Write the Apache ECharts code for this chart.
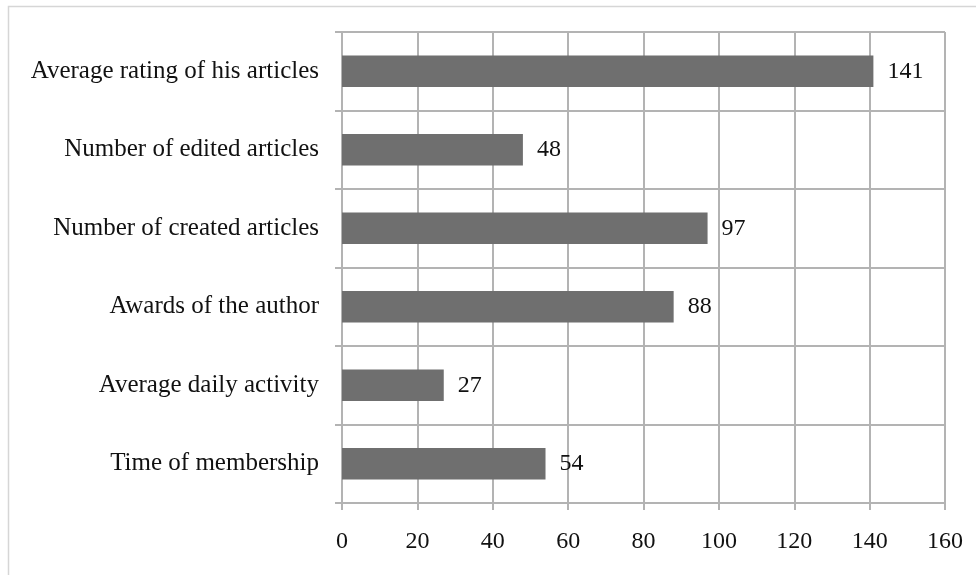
<!DOCTYPE html>
<html>
<head>
<meta charset="utf-8">
<script src="https://cdn.jsdelivr.net/npm/echarts@6/dist/echarts.min.js"></script>
<style>
  html, body { margin: 0; padding: 0; background: #fff; }
  #chart { width: 976px; height: 575px; }
</style>
</head>
<body>
<div id="chart"></div>
<script>
// Categories listed bottom-to-top (category axis order)
const categories = [
  'Time of membership',
  'Average daily activity',
  'Awards of the author',
  'Number of created articles',
  'Number of edited articles',
  'Average rating of his articles'
];
const values = [54, 27, 88, 97, 48, 141];
const xTicks = [0, 20, 40, 60, 80, 100, 120, 140, 160];

const FONT = 'Liberation Serif';
const NUM_SIZE = 24;
const CAT_SIZE = 25;
const GRID_COLOR = '#b3b3b3';

const chart = echarts.init(document.getElementById('chart'), null, { renderer: 'canvas' });
chart.setOption({
  animation: false,
  backgroundColor: '#ffffff',
  textStyle: { fontFamily: FONT },
  graphic: [{
    type: 'rect',
    shape: { x: 8.5, y: 6.5, width: 1000, height: 600 },
    style: { fill: 'none', stroke: '#d6d6d6', lineWidth: 1.5 },
    silent: true
  }],
  grid: { left: 342, right: 31, top: 32, bottom: 72, containLabel: false },
  xAxis: {
    type: 'value',
    min: xTicks[0],
    max: xTicks[xTicks.length - 1],
    interval: 20,
    axisLine: { show: true, lineStyle: { color: GRID_COLOR, width: 2 } },
    axisTick: { show: true, length: 7, lineStyle: { color: GRID_COLOR, width: 2 } },
    axisLabel: { margin: 27, color: '#111', fontFamily: FONT, fontSize: NUM_SIZE },
    splitLine: { show: true, lineStyle: { color: GRID_COLOR, width: 2 } }
  },
  yAxis: {
    type: 'category',
    data: categories,
    axisLine: { show: true, lineStyle: { color: GRID_COLOR, width: 2 } },
    axisTick: { show: true, length: 7, lineStyle: { color: GRID_COLOR, width: 2 } },
    axisLabel: { margin: 23, color: '#111', fontFamily: FONT, fontSize: CAT_SIZE },
    splitLine: { show: true, lineStyle: { color: GRID_COLOR, width: 2 } }
  },
  series: [{
    type: 'bar',
    data: values,
    barCategoryGap: '60%',
    itemStyle: { color: '#6f6f6f' },
    label: {
      show: true,
      position: 'right',
      distance: 14,
      color: '#111',
      fontFamily: FONT,
      fontSize: NUM_SIZE
    }
  }]
});
</script>
</body>
</html>
